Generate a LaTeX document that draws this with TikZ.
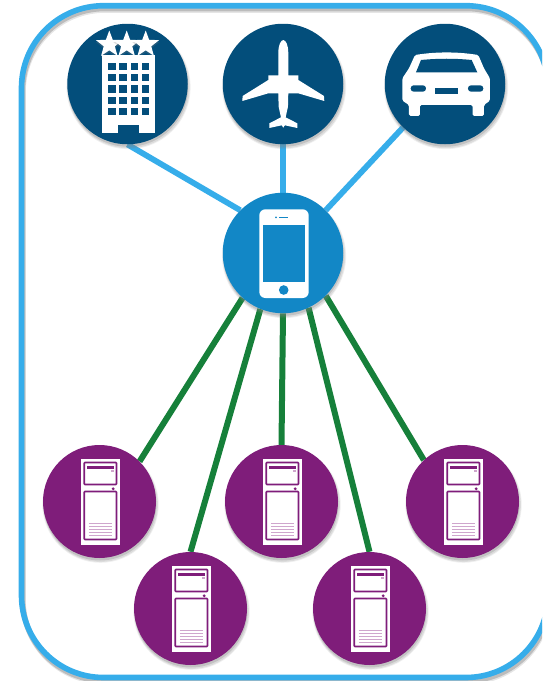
\documentclass[tikz,border=0pt]{standalone}
\usetikzlibrary{backgrounds, shadows, shapes.geometric}
\definecolor{framecol}{HTML}{36ADEA}
\definecolor{navycol}{HTML}{034E7B}
\definecolor{phonecol}{HTML}{1287C6}
\definecolor{purplecol}{HTML}{7F1D7A}
\definecolor{linecol}{HTML}{16803A}
\definecolor{ventcol}{HTML}{CFA6CD}

\begin{document}
\begin{tikzpicture}[x=1pt, y=-1pt]
\tikzstyle{soft}=[drop shadow={shadow xshift=1pt, shadow yshift=-3pt, shadow scale=1.03, opacity=.12},
                  drop shadow={shadow xshift=1pt, shadow yshift=-3pt, shadow scale=1.015, opacity=.18},
                  drop shadow={shadow xshift=.5pt, shadow yshift=-2.5pt, opacity=.28}]
\tikzstyle{main}=[circle, minimum size=120.5pt, inner sep=0pt, soft]
\tikzstyle{server}=[circle, minimum size=113pt, inner sep=0pt, soft, fill=purplecol]
\tikzstyle{blueline}=[draw=framecol, line width=5.8pt]
\tikzstyle{greenline}=[draw=linecol, line width=6pt]
\tikzstyle{icon}=[fill=white, draw=none]
\tikzstyle{frameline}=[line width=5.6pt, rounded corners=82pt]
\tikzstyle{hotelstar}=[star, star points=5, star point ratio=2.4, minimum size=28pt, inner sep=0pt, fill=white,
                       drop shadow={shadow xshift=0pt, shadow yshift=-2pt, opacity=.25}]
    \useasboundingbox (0,0) rectangle (542,681);
    \node[main, fill=navycol] (hotel) at (127.5,84) {};
    \node[main, fill=navycol] (plane) at (283,84) {};
    \node[main, fill=navycol] (car) at (445,84) {};
    \node[main, fill=phonecol] (phone) at (283,253) {};
    \node[server] (serverA) at (99.5,501.5) {};
    \node[server] (serverB) at (281.5,501.5) {};
    \node[server] (serverC) at (462.5,501.5) {};
    \node[server] (serverD) at (190.5,608.5) {};
    \node[server] (serverE) at (369.5,608.5) {};
    \begin{pgfonlayer}{background}
    \begin{scope}
    \clip (0,0) rectangle (542,681);
    \draw[frameline, black, opacity=.10] (23,10) rectangle (549.5,682);
    \draw[frameline, black, opacity=.18] (22.5,8.5) rectangle (549,680.5);
    \draw[frameline, framecol] (21.5,5.7) rectangle (548,677.5);
    \end{scope}
    \path (hotel.south) edge [blueline] (phone.135)
          (plane.south) edge [blueline] (phone.north)
          (car.226) edge [blueline] (phone.45)
          (phone.228) edge [greenline] (serverA.45)
          (phone.248) edge [greenline] (serverD.north)
          (phone.south) edge [greenline] (serverB.north)
          (phone.295) edge [greenline] (serverE.north)
          (phone.315) edge [greenline] (serverC.133);
    \end{pgfonlayer}
    % hotel
    \node[hotelstar] (starA) at (109.3,44.5) {};
    \node[hotelstar] (starB) at (126.7,44.5) {};
    \node[hotelstar] (starC) at (145.7,44.5) {};
    \fill[icon] (102.3,55) rectangle (155.3,133.3);
    \foreach \x in {108.3,119.3,130.7,141.7}
        \foreach \y in {62.7,74,85.3,96.7,108}
            \fill[navycol] (\x,\y) rectangle ++(7.3,7.3);
    \fill[navycol] (118.3,125.3) rectangle (139.3,133.6);
    % plane
    \begin{scope}[shift={(283.3,0)}, x=.3333pt, y=-.3333pt]
    \foreach \s in {1,-1}
        \fill[icon, xscale=\s] (-1,120) .. controls (8,120) and (15,135) .. (15,160) -- (15,226)
            -- (25,226) -- (45,226) -- (45,240) -- (122,288) -- (123,303) -- (45,280) -- (15,280)
            -- (14,320) -- (7,352) -- (42,370) -- (42,384) -- (5,376) -- (0,382) -- (-1,382) -- cycle;
    \end{scope}
    % car
    \begin{scope}[shift={(340,0)}, x=.3333pt, y=-.3333pt]
    \fill[icon, rounded corners=1.5pt] (225,165) .. controls (290,155) and (350,155) .. (415,165)
        -- (432,205) -- (450,235) -- (450,302) -- (432,315) -- (432,348) -- (398,348) -- (398,315)
        -- (240,315) -- (240,348) -- (207,348) -- (207,315) -- (187,302) -- (187,235) -- (207,205) -- cycle;
    \fill[navycol] (243,180) .. controls (295,175) and (345,175) .. (395,180)
        -- (412,217) -- (228,217) -- cycle;
    \fill[navycol, rounded corners=3pt] (212,256) rectangle (258,275);
    \fill[navycol, rounded corners=3pt] (384,256) rectangle (430,275);
    \fill[navycol] (285,265) rectangle (355,283);
    \end{scope}
    % phone
    \fill[icon, rounded corners=6pt] (259.3,209.3) rectangle (308.7,298);
    \fill[phonecol] (263.3,225) rectangle (305,282.3);
    \fill[phonecol] (283.7,290) circle (4.8);
    \fill[phonecol] (276,217.3) circle (1);
    \draw[phonecol, line width=1pt] (279.3,217.3) -- (288.3,217.3);
    % servers
    \foreach \n in {serverA,serverB,serverC,serverD,serverE} {
        \begin{scope}[shift={(\n)}]
        \fill[icon] (-19,-43) rectangle (20.5,43);
        \draw[purplecol, line width=1.6pt, rounded corners=.8pt] (-15.3,-39) rectangle (17,-17);
        \fill[purplecol] (-12.3,-35.7) rectangle (14,-32.3);
        \fill[ventcol] (11.5,-32) rectangle (14,-30);
        \fill[purplecol] (13.7,-12.7) circle (1.6);
        \draw[purplecol, line width=1.6pt, rounded corners=.8pt] (-15.3,-10) rectangle (17,38);
        \foreach \y in {22,25,28,31,34}
            \draw[ventcol, line width=1.7pt] (-10.7,\y) -- (12,\y);
        \end{scope}
    }
\end{tikzpicture}
\end{document}
